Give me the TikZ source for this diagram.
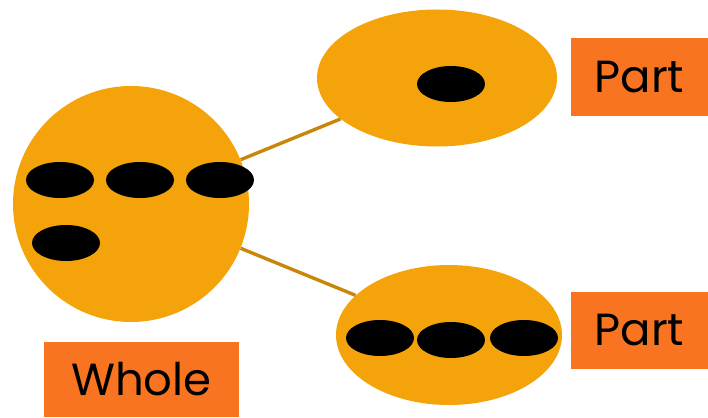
\documentclass[tikz,border=0pt]{standalone}
\usepackage{fontspec}
\setmainfont{Poppins}
\usetikzlibrary{shapes.geometric}
\definecolor{blobfill}{HTML}{F5A30A}
\definecolor{tagfill}{HTML}{F97420}
\definecolor{linkline}{HTML}{C8870A}
\begin{document}
\begin{tikzpicture}[x=1pt,y=-1pt,
    blob/.style={ellipse, fill=blobfill, inner sep=0pt},
    dot/.style={ellipse, fill=black, minimum width=68pt, minimum height=36pt, inner sep=0pt},
    tag/.style={fill=tagfill, inner sep=0pt, font=\fontsize{45}{50}\selectfont},
    link/.style={linkline, line width=3.4pt}]
  \useasboundingbox (0,0) rectangle (708,417);
  % the whole and its two parts
  \node[blob, minimum width=236pt, minimum height=236pt] (whole) at (131,204) {};
  \node[blob, minimum width=240pt, minimum height=137pt] (upper) at (437,78) {};
  \node[blob, minimum width=226pt, minimum height=140pt] (lower) at (449,335) {};
  \foreach \p/\n in {(60,180)/a,(140,180)/b,(220,180)/c,(66,243)/d}{
    \node[dot] (whole\n) at \p {};
  }
  \node[dot] (uppera) at (451,84) {};
  \foreach \p/\n in {(380,338)/a,(451,340)/b,(524,338)/c}{
    \node[dot] (lower\n) at \p {};
  }
  \draw[link] (whole.22) -- (upper.203);
  \draw[link] (whole.338) -- (lower.157);
  % labels
  \node[tag, minimum width=195pt, minimum height=75pt] (wholetag) at (141.5,379.5) {Whole\hspace{6pt}};
  \node[tag, minimum width=137pt, minimum height=78pt] (uppertag) at (639.5,77) {Part};
  \node[tag, minimum width=137pt, minimum height=77pt] (lowertag) at (639.5,330.5) {Part};
\end{tikzpicture}
\end{document}
